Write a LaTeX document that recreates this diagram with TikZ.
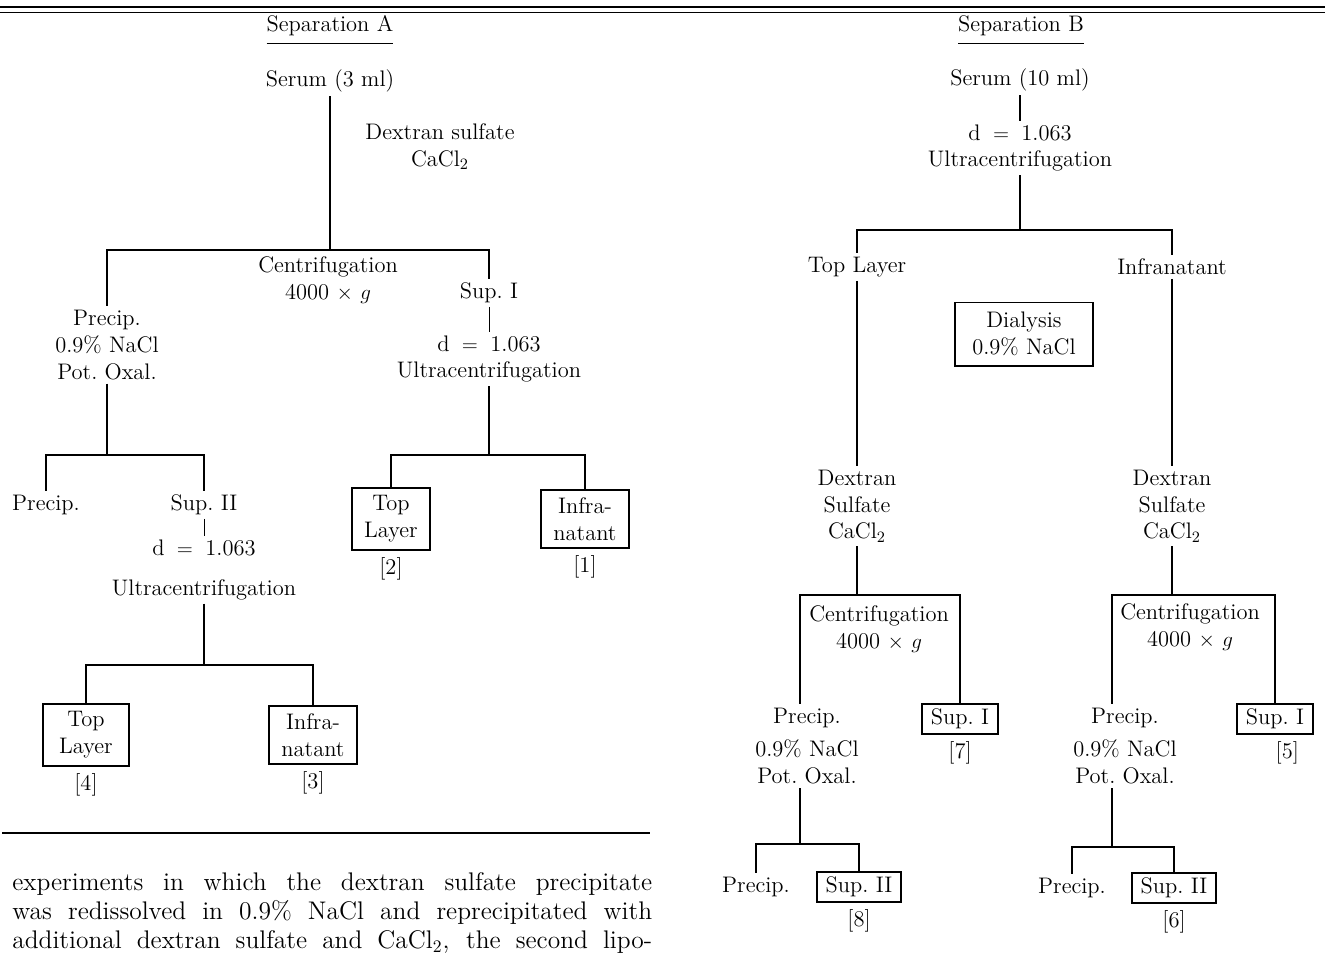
\documentclass[tikz,border=0pt]{standalone}
\usepackage{amsmath}
\usepackage{tikz}
\usetikzlibrary{positioning}
\tikzstyle{link} = [line width=0.8pt]
\tikzstyle{lab} = [align=center, inner sep=2pt]
\tikzstyle{result} = [draw=black, line width=1.1pt, align=center, inner xsep=5pt, inner ysep=3pt]
\tikzstyle{bigresult} = [result, inner xsep=7pt, inner ysep=4.5pt]
\newcommand{\dens}{d\hspace{0.55em}$=$\hspace{0.55em}1.063}
\newcommand{\fullline}[1]{\hbox to 12.8cm{\spaceskip=0.33em plus 1fil\relax #1}}
\newcommand{\headline}[1]{\underline{\rule[-5pt]{0pt}{5pt}#1}}

\begin{document}
\begin{tikzpicture}[x=0.02cm,y=-0.02cm,font=\fontsize{12.8}{15.3}\selectfont\frenchspacing]
    \useasboundingbox (0,0) rectangle (1325,965);
    % rules
    \draw[link] (0,7) -- (1325,7);
    \draw[link] (0,12.5) -- (1325,12.5);
    \draw[line width=1.2pt] (2,833) -- (650,833);

    % Separation A
    \node (sepA) at (330,30) {\headline{Separation A}};
    \node[lab] (serumA) at (330,81) {Serum (3 ml)};
    \node[lab] (dexA) at (440,147) {Dextran sulfate\\CaCl$_2$};
    \coordinate (jA) at (330,250);
    \node[lab] (centA) at (328,280) {Centrifugation\\4000 $\times$ $g$};
    \node[lab] (precA) at (107,345) {Precip.\\0.9\% NaCl\\Pot. Oxal.};
    \node[lab] (supA) at (489,293) {Sup. I};
    \node[lab] (ucA) at (489,359) {\dens\\Ultracentrifugation};

    \draw[link] (serumA) -- (jA) -| (precA);
    \draw[link] (jA) -| (supA);
    \draw[thin] (supA) -- (ucA);

    \coordinate (jP) at (107,455);
    \node[lab] (precA2) at (46,505) {Precip.};
    \node[lab] (supA2) at (204,505) {Sup. II};
    \node[lab] (ucA2) at (204,570) {\dens\\[7pt]Ultracentrifugation};
    \draw[link] (precA) -- (jP) -| (precA2);
    \draw[link] (jP) -| (supA2);
    \draw[thin] (supA2) -- (ucA2);

    \coordinate (jU2) at (204,665);
    \node[bigresult, inner xsep=9pt] (top4) at (86,735) {Top\\Layer};
    \node[bigresult] (inf3) at (313,735) {Infra-\\natant};
    \node[below=0pt of top4] (n4) {[4]};
    \node[below=0pt of inf3] (n3) {[3]};
    \draw[link] (ucA2) -- (jU2) -| (top4);
    \draw[link] (jU2) -| (inf3);

    \coordinate (jU1) at (489,455);
    \node[bigresult] (top2) at (391,519) {Top\\Layer};
    \node[bigresult] (inf1) at (585,519) {Infra-\\natant};
    \node[below=0pt of top2] (n2) {[2]};
    \node[below=0pt of inf1] (n1) {[1]};
    \draw[link] (ucA) -- (jU1) -| (top2);
    \draw[link] (jU1) -| (inf1);

    % text below
    \node[anchor=north west, inner sep=0pt, text width=12.8cm,
          font=\fontsize{14.5}{16.5}\selectfont] (para) at (12,872) {%
      \fullline{experiments in which the dextran sulfate precipitate}
      \fullline{was redissolved in 0.9\% NaCl and reprecipitated with}
      \fullline{additional dextran sulfate and CaCl$_2$, the second lipo-}};

    % Separation B
    \node (sepB) at (1021,30) {\headline{Separation B}};
    \node[lab] (serumB) at (1020,80) {Serum (10 ml)};
    \node[lab] (ucB) at (1020,148) {\dens\\Ultracentrifugation};
    \draw[link] (serumB) -- (ucB);

    \coordinate (jB) at (1020,230);
    \node[lab] (topB) at (857,267) {Top Layer};
    \node[lab] (infB) at (1172,267) {Infranatant};
    \draw[link] (ucB) -- (jB) -| (topB);
    \draw[link] (jB) -| (infB);
    \node[result, inner xsep=10pt, inner ysep=5.5pt] (dialysis) at (1024,334) {Dialysis\\0.9\% NaCl};

    \node[lab] (dexB1) at (857,506) {Dextran\\Sulfate\\CaCl$_2$};
    \node[lab] (dexB2) at (1172,506) {Dextran\\Sulfate\\CaCl$_2$};
    \draw[link] (topB) -- (dexB1);
    \draw[link] (infB) -- (dexB2);

    % left branch
    \coordinate (jC1) at (857,595);
    \coordinate (jD1) at (800,844);
    \node[lab] (centB1) at (879,629) {Centrifugation\\4000 $\times$ $g$};
    \node[lab] (precB1) at (807,746) {Precip.\\[4pt]0.9\% NaCl\\Pot. Oxal.};
    \node[result] (sup7) at (960,719) {Sup. I};
    \node[below=0pt of sup7] (n7) {[7]};
    \draw[link] (dexB1) -- (jC1) -| (jD1 |- precB1.north);
    \draw[link] (jC1) -| (sup7);

    \node[lab] (precB1b) at (756,887) {Precip.};
    \node[result] (sup8) at (859,887) {Sup. II};
    \node[below=0pt of sup8] (n8) {[8]};
    \draw[link] (jD1 |- precB1.south) -- (jD1) -| (precB1b);
    \draw[link] (jD1) -| (sup8);

    % right branch
    \coordinate (jC2) at (1172,595);
    \coordinate (jD2) at (1112,847);
    \node[lab] (centB2) at (1190,627) {Centrifugation\\4000 $\times$ $g$};
    \node[lab] (precB2) at (1125,746) {Precip.\\[4pt]0.9\% NaCl\\Pot. Oxal.};
    \node[result] (sup5) at (1275,719) {Sup. I};
    \node[below=0pt of sup5, xshift=7pt] (n5) {[5]};
    \draw[link] (dexB2) -- (jC2) -| (jD2 |- precB2.north);
    \draw[link] (jC2) -| (sup5);

    \node[lab] (precB2b) at (1072,888) {Precip.};
    \node[result] (sup6) at (1174,888) {Sup. II};
    \node[below=0pt of sup6] (n6) {[6]};
    \draw[link] (jD2 |- precB2.south) -- (jD2) -| (precB2b);
    \draw[link] (jD2) -| (sup6);
\end{tikzpicture}
\end{document}
